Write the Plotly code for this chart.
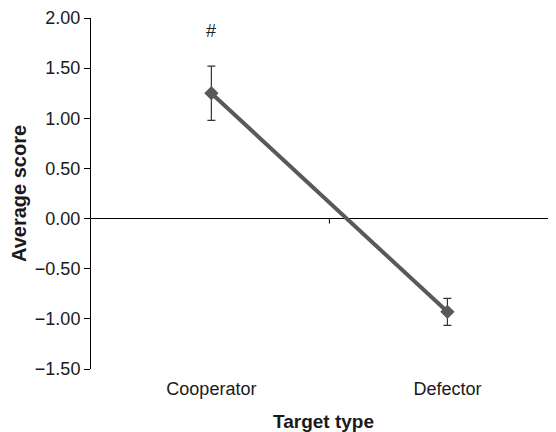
import plotly.graph_objects as go

categories = ["Cooperator", "Defector"]
means = [1.25, -0.93]
errors = [0.27, 0.135]
sig_label = "#"
sig_y = 1.87
y_ticks = [-1.5, -1.0, -0.5, 0.0, 0.5, 1.0, 1.5, 2.0]

x_pos = list(range(len(categories)))

fig = go.Figure()
fig.add_trace(go.Scatter(
    x=x_pos, y=means,
    mode="lines+markers",
    line=dict(color="#595959", width=4),
    marker=dict(symbol="diamond", size=11, color="#595959"),
    error_y=dict(type="data", array=errors, visible=True, color="#333333", thickness=1.2, width=4),
    showlegend=False,
))

fig.add_annotation(x=x_pos[0], y=sig_y, text=sig_label, showarrow=False,
                   font=dict(size=18, color="#222"))

# mid-category tick on the zero line
fig.add_shape(type="line", x0=0.5, x1=0.5, y0=0, y1=-0.05, xref="x", yref="y",
              line=dict(color="black", width=1))

fig.update_layout(
    width=548, height=424,
    margin=dict(l=83, r=0, t=9, b=62),
    paper_bgcolor="white", plot_bgcolor="white",
    font=dict(family="Liberation Sans, Arial, sans-serif", size=18, color="#1a1a1a"),
    xaxis=dict(
        range=[-0.51, 1.46],
        tickvals=x_pos, ticktext=categories,
        showline=False, showgrid=False, zeroline=False,
        ticks="outside", ticklen=3, tickcolor="rgba(0,0,0,0)",
        tickfont=dict(size=18),
        title=dict(text="<b>Target type</b>", standoff=20, font=dict(size=19)),
    ),
    yaxis=dict(
        range=[-1.5, 2.0],
        tickvals=y_ticks, tickformat=".2f",
        showline=True, linecolor="black", linewidth=1,
        ticks="outside", ticklen=6, tickcolor="black",
        ticklabeloverflow="allow",
        showgrid=False, zeroline=True, zerolinecolor="black", zerolinewidth=1,
        tickfont=dict(size=18),
        title=dict(text="<b>Average score</b>", standoff=6, font=dict(size=20)),
    ),
)

fig.write_html("out.html")
